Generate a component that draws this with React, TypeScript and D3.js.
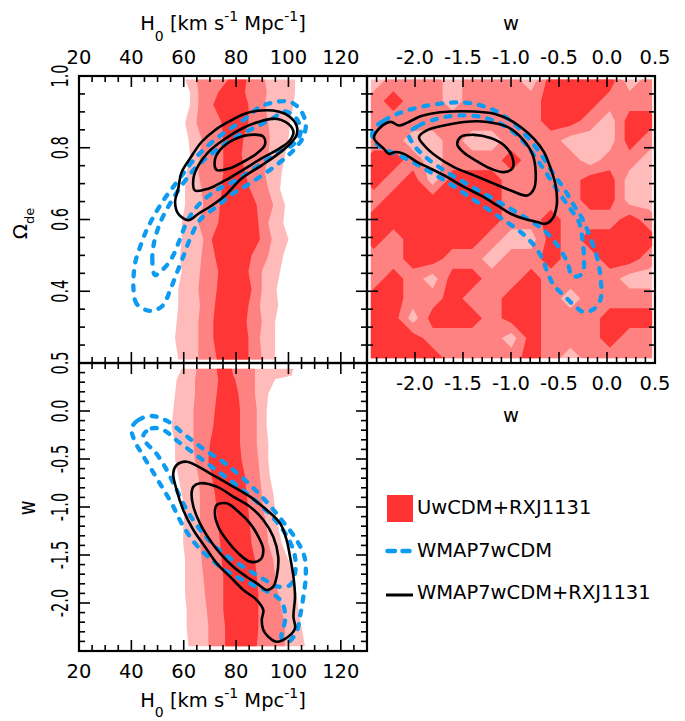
import React from "react";
import * as d3 from "d3";

// ---------------- data ----------------
// Top-left panel (H0 vs Omega_de): UwCDM+RXJ1131 filled band, rows in Omega_de, edges in H0
const tlRows = [0.99, 0.955, 0.92, 0.87, 0.825, 0.78, 0.73, 0.685, 0.64, 0.59, 0.545, 0.5, 0.455, 0.405, 0.36, 0.315, 0.27, 0.21];
const tlLightL = [60.5, 62.4, 62.4, 60.5, 61.8, 62.4, 61.1, 60.5, 60.5, 59.2, 59.2, 58.6, 59.2, 57.9, 57.9, 57.3, 56.7, 57.9];
const tlLightR = [102.5, 102.5, 101.9, 100.6, 100.0, 98.7, 97.4, 96.8, 98.7, 98.0, 100.0, 98.0, 96.8, 95.5, 96.1, 94.9, 94.9, 94.9];
const tlMedL = [64.9, 65.6, 65.6, 64.9, 66.8, 66.2, 65.6, 66.8, 67.5, 65.6, 67.5, 66.8, 66.2, 65.6, 66.2, 65.6, 65.6, 65.6];
const tlMedR = [91.0, 91.7, 91.0, 92.3, 92.9, 92.3, 91.0, 92.3, 94.2, 92.3, 93.6, 92.3, 89.8, 89.8, 89.1, 89.8, 89.1, 89.8];
const tlDarkL = [77.0, 73.2, 71.3, 74.5, 75.1, 75.1, 75.1, 74.5, 73.9, 73.2, 70.7, 71.9, 73.2, 72.6, 71.9, 71.3, 71.3, 72.6];
const tlDarkR = [84.0, 83.4, 84.7, 84.7, 82.8, 82.1, 83.4, 85.3, 87.9, 88.5, 89.1, 85.9, 84.7, 85.9, 84.7, 84.0, 84.7, 84.7];

// Top-left contours [H0, Omega_de]
const tlBlackOuter = [[61.8, 0.598], [57.9, 0.616], [56.7, 0.649], [57.9, 0.686], [59.2, 0.732], [62.4, 0.77], [66.8, 0.816], [71.9, 0.849], [77.0, 0.872], [83.4, 0.895], [89.8, 0.904], [96.1, 0.901], [100.6, 0.886], [103.1, 0.862], [103.1, 0.835], [100.6, 0.811], [96.1, 0.783], [89.8, 0.751], [82.1, 0.714], [75.8, 0.667], [70.7, 0.639], [65.6, 0.616]];
const tlBlackMid = [[64.3, 0.681], [63.7, 0.714], [65.6, 0.751], [69.4, 0.788], [75.8, 0.825], [82.1, 0.853], [88.5, 0.872], [94.9, 0.881], [99.9, 0.867], [101.9, 0.844], [100.6, 0.821], [96.8, 0.799], [90.4, 0.773], [83.4, 0.742], [75.8, 0.709], [69.4, 0.686]];
const tlBlackInner = [[72.6, 0.738], [71.9, 0.766], [73.9, 0.794], [78.9, 0.822], [85.3, 0.836], [90.4, 0.831], [91.0, 0.808], [87.9, 0.784], [82.8, 0.761], [77.7, 0.743]];
const tlBlueOuter = [[45.8, 0.347], [42.0, 0.365], [40.8, 0.407], [41.4, 0.477], [43.3, 0.523], [45.8, 0.57], [48.4, 0.607], [52.2, 0.653], [56.0, 0.691], [59.8, 0.728], [63.7, 0.765], [68.8, 0.803], [75.1, 0.84], [82.8, 0.877], [89.1, 0.914], [95.5, 0.928], [100.6, 0.928], [104.4, 0.907], [106.6, 0.868], [105.7, 0.831], [103.1, 0.803], [99.3, 0.775], [92.9, 0.738], [85.3, 0.701], [78.9, 0.673], [72.6, 0.636], [66.2, 0.599], [62.4, 0.546], [59.8, 0.496], [57.3, 0.45], [54.8, 0.403], [52.2, 0.362], [49.0, 0.347]];
const tlBlueInner = [[49.0, 0.445], [48.0, 0.487], [48.6, 0.533], [50.9, 0.589], [54.8, 0.645], [59.8, 0.701], [64.9, 0.747], [72.6, 0.794], [80.2, 0.831], [87.9, 0.859], [94.2, 0.883], [98.7, 0.901], [103.1, 0.881], [104.7, 0.844], [102.2, 0.812], [95.5, 0.784], [87.9, 0.747], [80.2, 0.71], [72.6, 0.682], [66.2, 0.645], [61.8, 0.602], [58.6, 0.546], [56.0, 0.5], [53.5, 0.472], [50.9, 0.454]];

// Top-right panel (w vs Omega_de): UwCDM+RXJ1131 level grid (1 = light, 2 = medium, 3 = dark)
const trGridW = [-2.43, -2.225, -2.02, -1.815, -1.61, -1.405, -1.2, -0.995, -0.79, -0.585, -0.38, -0.175, 0.03, 0.235, 0.44];
const trGridOm = [0.985, 0.93, 0.875, 0.82, 0.765, 0.71, 0.655, 0.6, 0.545, 0.49, 0.435, 0.38, 0.325, 0.27, 0.215];
const trLevels = [
  [1, 2, 2, 2, 1, 2, 2, 2, 1, 3, 3, 3, 3, 1, 2],
  [2, 3, 2, 2, 1, 2, 2, 2, 2, 3, 3, 3, 2, 2, 2],
  [2, 2, 2, 2, 2, 2, 2, 2, 2, 3, 3, 2, 1, 3, 3],
  [2, 2, 1, 1, 2, 1, 1, 2, 2, 2, 1, 1, 1, 3, 2],
  [3, 3, 2, 1, 2, 2, 2, 3, 2, 2, 2, 1, 2, 2, 1],
  [3, 2, 3, 1, 3, 3, 3, 2, 2, 2, 2, 3, 3, 1, 1],
  [2, 3, 3, 3, 3, 3, 3, 2, 2, 2, 2, 3, 3, 1, 1],
  [3, 3, 3, 3, 3, 3, 3, 2, 2, 3, 2, 2, 2, 3, 2],
  [3, 2, 3, 3, 3, 3, 2, 1, 1, 3, 2, 3, 3, 3, 3],
  [2, 2, 3, 3, 2, 2, 1, 2, 2, 3, 2, 2, 3, 3, 2],
  [2, 3, 2, 1, 3, 3, 2, 2, 3, 2, 2, 2, 2, 1, 1],
  [3, 3, 2, 2, 3, 2, 2, 3, 3, 2, 1, 2, 2, 2, 2],
  [3, 3, 1, 3, 3, 3, 2, 3, 3, 2, 2, 2, 3, 3, 3],
  [3, 3, 3, 2, 2, 2, 2, 1, 3, 2, 2, 2, 3, 2, 2],
  [3, 3, 3, 3, 2, 2, 2, 2, 3, 2, 1, 2, 2, 2, 2],
];
// Top-right contours [w, Omega_de]
const trBlackOuter = [[-2.427, 0.827], [-2.375, 0.853], [-2.253, 0.872], [-2.167, 0.862], [-2.08, 0.87], [-1.941, 0.888], [-1.837, 0.895], [-1.628, 0.901], [-1.385, 0.901], [-1.177, 0.895], [-1.038, 0.881], [-0.899, 0.858], [-0.76, 0.825], [-0.656, 0.788], [-0.587, 0.742], [-0.535, 0.695], [-0.524, 0.639], [-0.569, 0.602], [-0.639, 0.588], [-0.726, 0.593], [-0.865, 0.602], [-1.003, 0.616], [-1.142, 0.639], [-1.316, 0.667], [-1.49, 0.691], [-1.663, 0.718], [-1.837, 0.742], [-1.976, 0.76], [-2.115, 0.783], [-2.201, 0.788], [-2.271, 0.783], [-2.323, 0.797]];
const trBlackMid = [[-1.958, 0.83], [-1.872, 0.849], [-1.698, 0.862], [-1.49, 0.872], [-1.247, 0.872], [-1.038, 0.858], [-0.882, 0.825], [-0.778, 0.783], [-0.743, 0.732], [-0.76, 0.686], [-0.83, 0.667], [-1.003, 0.681], [-1.212, 0.704], [-1.385, 0.723], [-1.594, 0.746], [-1.767, 0.774], [-1.906, 0.807]];
const trBlackInner = [[-1.559, 0.809], [-1.524, 0.83], [-1.385, 0.836], [-1.212, 0.827], [-1.073, 0.807], [-0.986, 0.774], [-0.986, 0.742], [-1.073, 0.732], [-1.212, 0.742], [-1.351, 0.762], [-1.49, 0.786]];
const trBlueOuter = [[-2.427, 0.853], [-2.323, 0.876], [-2.149, 0.898], [-1.941, 0.914], [-1.733, 0.923], [-1.49, 0.926], [-1.316, 0.918], [-1.142, 0.9], [-0.969, 0.867], [-0.83, 0.83], [-0.691, 0.783], [-0.569, 0.732], [-0.448, 0.686], [-0.344, 0.639], [-0.257, 0.602], [-0.17, 0.546], [-0.101, 0.491], [-0.066, 0.435], [-0.066, 0.379], [-0.135, 0.351], [-0.24, 0.342], [-0.344, 0.361], [-0.448, 0.388], [-0.552, 0.416], [-0.622, 0.454], [-0.674, 0.491], [-0.76, 0.528], [-0.899, 0.565], [-1.073, 0.598], [-1.247, 0.63], [-1.455, 0.667], [-1.663, 0.704], [-1.872, 0.737], [-2.08, 0.768], [-2.253, 0.788], [-2.392, 0.809], [-2.444, 0.83]];
const trBlueInner = [[-2.063, 0.839], [-1.958, 0.862], [-1.767, 0.881], [-1.559, 0.89], [-1.316, 0.886], [-1.073, 0.862], [-0.899, 0.825], [-0.76, 0.779], [-0.639, 0.732], [-0.517, 0.681], [-0.396, 0.635], [-0.292, 0.593], [-0.257, 0.546], [-0.24, 0.491], [-0.257, 0.449], [-0.361, 0.442], [-0.413, 0.481], [-0.517, 0.528], [-0.656, 0.57], [-0.83, 0.602], [-1.038, 0.635], [-1.247, 0.667], [-1.49, 0.704], [-1.698, 0.737], [-1.889, 0.774], [-2.01, 0.807]];

// Bottom-left panel (H0 vs w): band rows in w, edges in H0
const blRows = [0.44, 0.37, 0.33, 0.18, 0.01, -0.16, -0.34, -0.51, -0.68, -0.86, -1.03, -1.2, -1.38, -1.55, -1.73, -1.9, -2.07, -2.25, -2.45];
const blLightL = [59.2, 58.0, 57.3, 56.7, 56.0, 55.4, 56.7, 56.7, 57.9, 59.2, 60.5, 59.8, 59.8, 60.5, 60.5, 60.5, 61.1, 61.1, 61.8];
const blLightR = [101.9, 101.2, 94.9, 92.3, 91.7, 91.7, 92.3, 92.3, 92.9, 94.2, 94.9, 96.1, 97.4, 100.0, 101.9, 103.1, 103.8, 105.0, 106.3];
const blMedL = [64.9, 64.6, 64.3, 64.3, 63.7, 63.7, 63.7, 64.3, 65.6, 66.2, 66.2, 66.2, 66.2, 66.8, 67.5, 68.1, 68.8, 69.4, 69.4];
const blMedR = [87.2, 87.2, 87.2, 87.2, 87.9, 87.9, 87.9, 88.5, 89.1, 89.8, 90.4, 91.7, 92.3, 94.2, 94.9, 96.1, 97.4, 98.7, 98.7];
const blDarkL = [72.6, 72.9, 73.2, 72.6, 71.9, 71.3, 70.0, 69.4, 70.7, 71.9, 72.6, 73.2, 73.9, 74.5, 75.1, 75.1, 75.1, 75.8, 75.8];
const blDarkR = [78.3, 78.9, 79.6, 80.9, 81.5, 81.5, 81.5, 82.1, 83.4, 84.0, 84.7, 85.3, 85.9, 87.2, 87.9, 88.5, 88.5, 88.5, 87.9];
// Bottom-left contours [H0, w]
const blBlackOuter = [[61.1, -0.528], [70.0, -0.649], [78.9, -0.788], [85.3, -0.892], [91.7, -1.031], [96.8, -1.17], [99.3, -1.344], [100.6, -1.517], [101.9, -1.726], [102.5, -1.934], [101.9, -2.142], [102.5, -2.264], [99.9, -2.351], [95.5, -2.403], [92.3, -2.351], [90.4, -2.281], [89.8, -2.177], [90.4, -2.073], [87.9, -1.969], [82.8, -1.865], [77.7, -1.726], [72.6, -1.587], [68.1, -1.413], [63.7, -1.24], [59.8, -1.031], [57.3, -0.823], [56.0, -0.649], [57.3, -0.563]];
const blBlackMid = [[63.7, -0.788], [66.2, -0.753], [72.6, -0.788], [78.9, -0.892], [85.3, -0.997], [90.4, -1.135], [94.2, -1.309], [96.1, -1.517], [95.5, -1.726], [94.2, -1.83], [91.7, -1.865], [87.9, -1.795], [84.0, -1.726], [78.9, -1.622], [73.9, -1.483], [70.0, -1.344], [66.2, -1.17], [63.7, -0.997], [63.0, -0.858]];
const blBlackInner = [[72.6, -0.979], [76.4, -0.962], [80.9, -1.049], [85.3, -1.17], [88.5, -1.309], [90.4, -1.448], [89.1, -1.552], [85.3, -1.569], [80.9, -1.483], [76.4, -1.344], [73.2, -1.205], [71.9, -1.066]];
const blBlueOuter = [[40.1, -0.181], [42.7, -0.094], [47.8, -0.052], [54.1, -0.111], [60.5, -0.25], [68.1, -0.406], [75.8, -0.545], [83.4, -0.719], [91.0, -0.927], [97.4, -1.135], [103.1, -1.344], [106.1, -1.517], [106.6, -1.726], [105.7, -1.934], [104.4, -2.142], [103.1, -2.299], [99.9, -2.403], [97.4, -2.368], [98.7, -2.177], [98.0, -2.021], [95.5, -1.934], [86.6, -1.813], [77.7, -1.691], [70.7, -1.552], [64.3, -1.378], [59.2, -1.17], [55.4, -0.962], [51.6, -0.788], [47.8, -0.615], [43.9, -0.441], [41.1, -0.302]];
const blBlueInner = [[44.6, -0.25], [47.8, -0.181], [52.2, -0.198], [57.9, -0.319], [65.6, -0.476], [73.2, -0.632], [80.9, -0.788], [88.5, -0.962], [94.9, -1.135], [99.9, -1.326], [102.5, -1.517], [102.5, -1.691], [100.6, -1.813], [96.1, -1.83], [91.0, -1.76], [84.7, -1.656], [77.7, -1.535], [70.7, -1.378], [64.9, -1.188], [60.5, -0.997], [56.7, -0.788], [52.8, -0.58], [49.0, -0.424], [45.8, -0.337]];

// Tick labels
const h0Labels = [20, 40, 60, 80, 100, 120];
const omLabels = [0.4, 0.6, 0.8, 1.0];
const wLabels = [-2.0, -1.5, -1.0, -0.5, 0.0, 0.5];
const legendItems = ["UwCDM+RXJ1131", "WMAP7wCDM", "WMAP7wCDM+RXJ1131"];

// ---------------- layout ----------------
const WIDTH = 685;
const HEIGHT = 721;
const L = 79, M = 367, R = 655, T = 76, MID = 363, B = 651;
const LIGHT = "#ffbaba";
const MED = "#ff8282";
const DARK = "#ff3636";
const BLUE = "#0d9bf2";
const FONT = "DejaVu Sans, sans-serif";

const xH = d3.scaleLinear().domain([20, 130]).range([L, M]);
const xW = d3.scaleLinear().domain([-2.5, 0.5]).range([M, R]);
const yOm = d3.scaleLinear().domain([0.2, 1.0]).range([MID, T]);
const yW = d3.scaleLinear().domain([-2.5, 0.5]).range([B, MID]);

const fmt1 = d3
  .formatLocale({ decimal: ".", thousands: ",", grouping: [3], currency: ["", ""], minus: "-" })
  .format(".1f");

function Band({ rows, left, right, x, y, fill }: any) {
  const data = rows.map((r: number, i: number) => ({ r, a: left[i], b: right[i] }));
  const area = d3
    .area<any>()
    .y((d) => y(d.r))
    .x0((d) => x(d.a))
    .x1((d) => x(d.b))
    .curve(d3.curveLinear);
  return <path d={area(data) || ""} fill={fill} />;
}

function Contour({ pts, x, y, blue }: any) {
  const line = d3
    .line<any>()
    .x((d) => x(d[0]))
    .y((d) => y(d[1]))
    .curve(d3.curveCatmullRomClosed.alpha(0.5));
  return blue ? (
    <path d={line(pts) || ""} fill="none" stroke={BLUE} strokeWidth={4.3} strokeDasharray="5 9" strokeLinecap="round" strokeLinejoin="round" />
  ) : (
    <path d={line(pts) || ""} fill="none" stroke="#000" strokeWidth={2.6} strokeLinejoin="round" />
  );
}

function ticksFor(lo: number, hi: number, step: number, majorEvery: number) {
  const out: { v: number; major: boolean }[] = [];
  const n = Math.round((hi - lo) / step);
  for (let i = 1; i < n; i++) {
    const v = lo + i * step;
    const q = v / majorEvery;
    out.push({ v, major: Math.abs(q - Math.round(q)) < 1e-6 });
  }
  return out;
}

function Frame({ x, y, xt, yt }: any) {
  const [x0, x1] = x.range();
  const [y1, y0] = y.range();
  const maj = 11, mn = 6;
  const lines: any[] = [];
  xt.forEach((t: any, i: number) => {
    const px = x(t.v);
    const len = t.major ? maj : mn;
    lines.push(<line key={"xb" + i} x1={px} x2={px} y1={y1} y2={y1 - len} />);
    lines.push(<line key={"xt" + i} x1={px} x2={px} y1={y0} y2={y0 + len} />);
  });
  yt.forEach((t: any, i: number) => {
    const py = y(t.v);
    const len = t.major ? maj : mn;
    lines.push(<line key={"yl" + i} x1={x0} x2={x0 + len} y1={py} y2={py} />);
    lines.push(<line key={"yr" + i} x1={x1} x2={x1 - len} y1={py} y2={py} />);
  });
  return (
    <g stroke="#000" strokeWidth={1.6} fill="none">
      {lines}
      <rect x={x0} y={y0} width={x1 - x0} height={y1 - y0} strokeWidth={2.2} />
    </g>
  );
}

function H0Title({ cx, y, sub }: any) {
  return (
    <text x={cx} y={y} textAnchor="middle" fontFamily={FONT} fontSize={19.5} fill="#000">
      <tspan>H</tspan>
      <tspan dx={0} dy={sub} fontSize={14}>0</tspan>
      <tspan dy={-sub}> [km s</tspan>
      <tspan dy={-9} fontSize={14}>-1</tspan>
      <tspan dy={9}> Mpc</tspan>
      <tspan dy={-9} fontSize={14}>-1</tspan>
      <tspan dy={9}>]</tspan>
    </text>
  );
}

export default function App() {
  const h0Ticks = ticksFor(20, 130, 5, 20);
  const omTicks = ticksFor(0.2, 1.0, 0.05, 0.2);
  const wTicks = ticksFor(-2.5, 0.5, 0.1, 0.5);

  // top-right grid contours
  const flat = trLevels.flat();
  const nx = trGridW.length, ny = trGridOm.length;
  const gx = d3.scaleLinear().domain([0.5, nx - 0.5]).range([trGridW[0], trGridW[nx - 1]]);
  const gy = d3.scaleLinear().domain([0.5, ny - 0.5]).range([trGridOm[0], trGridOm[ny - 1]]);
  const proj = d3.geoTransform({
    point(px: number, py: number) {
      (this as any).stream.point(xW(gx(px)), yOm(gy(py)));
    },
  });
  const gpath = d3.geoPath(proj as any);
  const cs = d3.contours().size([nx, ny]).thresholds([1.5, 2.5])(flat);

  return (
    <svg width={WIDTH} height={HEIGHT} style={{ position: "absolute", left: 0, top: 0, background: "#fff" }}>
      <defs>
        <clipPath id="clipTL"><rect x={L} y={T} width={M - L} height={MID - T} /></clipPath>
        <clipPath id="clipTR"><rect x={xW(-2.46)} y={yOm(0.99)} width={xW(0.47) - xW(-2.46)} height={yOm(0.213) - yOm(0.99)} /></clipPath>
        <clipPath id="clipTRc"><rect x={M} y={T} width={R - M} height={MID - T} /></clipPath>
        <clipPath id="clipBL"><rect x={L} y={MID} width={M - L} height={B - MID} /></clipPath>
      </defs>
      <rect x={0} y={0} width={WIDTH} height={HEIGHT} fill="#fff" />

      {/* Top-left panel */}
      <g clipPath="url(#clipTL)">
        <Band rows={tlRows} left={tlLightL} right={tlLightR} x={xH} y={yOm} fill={LIGHT} />
        <Band rows={tlRows} left={tlMedL} right={tlMedR} x={xH} y={yOm} fill={MED} />
        <Band rows={tlRows} left={tlDarkL} right={tlDarkR} x={xH} y={yOm} fill={DARK} />
        <Contour pts={tlBlueOuter} x={xH} y={yOm} blue />
        <Contour pts={tlBlueInner} x={xH} y={yOm} blue />
        <Contour pts={tlBlackOuter} x={xH} y={yOm} />
        <Contour pts={tlBlackMid} x={xH} y={yOm} />
        <Contour pts={tlBlackInner} x={xH} y={yOm} />
      </g>
      <Frame x={xH} y={yOm} xt={h0Ticks} yt={omTicks} />

      {/* Top-right panel */}
      <g clipPath="url(#clipTR)">
        <rect x={M} y={T} width={R - M} height={MID - T} fill={LIGHT} />
        {cs.map((c: any, i: number) => (
          <path key={i} d={gpath(c) || ""} fill={i === 0 ? MED : DARK} />
        ))}
      </g>
      <g clipPath="url(#clipTRc)">
        <Contour pts={trBlueOuter} x={xW} y={yOm} blue />
        <Contour pts={trBlueInner} x={xW} y={yOm} blue />
        <Contour pts={trBlackOuter} x={xW} y={yOm} />
        <Contour pts={trBlackMid} x={xW} y={yOm} />
        <Contour pts={trBlackInner} x={xW} y={yOm} />
      </g>
      <Frame x={xW} y={yOm} xt={wTicks} yt={omTicks} />

      {/* Bottom-left panel */}
      <g clipPath="url(#clipBL)">
        <Band rows={blRows} left={blLightL} right={blLightR} x={xH} y={yW} fill={LIGHT} />
        <Band rows={blRows} left={blMedL} right={blMedR} x={xH} y={yW} fill={MED} />
        <Band rows={blRows} left={blDarkL} right={blDarkR} x={xH} y={yW} fill={DARK} />
        <Contour pts={blBlueOuter} x={xH} y={yW} blue />
        <Contour pts={blBlueInner} x={xH} y={yW} blue />
        <Contour pts={blBlackOuter} x={xH} y={yW} />
        <Contour pts={blBlackMid} x={xH} y={yW} />
        <Contour pts={blBlackInner} x={xH} y={yW} />
      </g>
      <Frame x={xH} y={yW} xt={h0Ticks} yt={wTicks} />

      {/* Tick labels */}
      <g fontFamily={FONT} fontSize={19.5} fill="#000" textAnchor="middle">
        {h0Labels.map((v) => (
          <text key={"ht" + v} x={xH(v)} y={64}>{v}</text>
        ))}
        {h0Labels.map((v) => (
          <text key={"hb" + v} x={xH(v)} y={678}>{v}</text>
        ))}
        {wLabels.map((v) => (
          <text key={"wt" + v} x={xW(v)} y={64}>{fmt1(v)}</text>
        ))}
        {wLabels.map((v) => (
          <text key={"wb" + v} x={xW(v)} y={390}>{fmt1(v)}</text>
        ))}
      </g>
      <g fontFamily={FONT} fontSize={14.5} fill="#000" textAnchor="middle">
        {omLabels.map((v) => (
          <text key={"om" + v} transform={`translate(68,${yOm(v)}) rotate(-90) scale(1,1.6)`}>{fmt1(v)}</text>
        ))}
        {wLabels.map((v) => (
          <text key={"wl" + v} transform={`translate(68,${yW(v)}) rotate(-90) scale(1,1.6)`}>{fmt1(v)}</text>
        ))}
      </g>

      {/* Axis titles */}
      <H0Title cx={(L + M) / 2} y={30} sub={11} />
      <H0Title cx={(L + M) / 2} y={707} sub={10} />
      <text x={(M + R) / 2} y={30} textAnchor="middle" fontFamily={FONT} fontSize={19.5}>w</text>
      <text x={(M + R) / 2} y={422} textAnchor="middle" fontFamily={FONT} fontSize={19.5}>w</text>
      <text transform={`translate(27,${(T + MID) / 2 + 4}) rotate(-90)`} textAnchor="middle" fontFamily={FONT} fontSize={20}>
        <tspan>Ω</tspan>
        <tspan dy={7} fontSize={13}>de</tspan>
      </text>
      <text transform={`translate(35,${(MID + B) / 2 + 1}) rotate(-90) scale(1,1.25)`} textAnchor="middle" fontFamily={FONT} fontSize={18}>w</text>

      {/* Legend */}
      <g fontFamily={FONT} fontSize={19.5} fill="#000">
        <rect x={387} y={495} width={26} height={27} fill="#ff3333" />
        <text x={417} y={514}>{legendItems[0]}</text>
        <line x1={387.5} x2={409.5} y1={551} y2={551} stroke={BLUE} strokeWidth={4.5} strokeLinecap="round" strokeDasharray="7.5 7.5" />
        <text x={417} y={557}>{legendItems[1]}</text>
        <line x1={386} x2={413} y1={595} y2={595} stroke="#000" strokeWidth={3} />
        <text x={417} y={599}>{legendItems[2]}</text>
      </g>
    </svg>
  );
}
